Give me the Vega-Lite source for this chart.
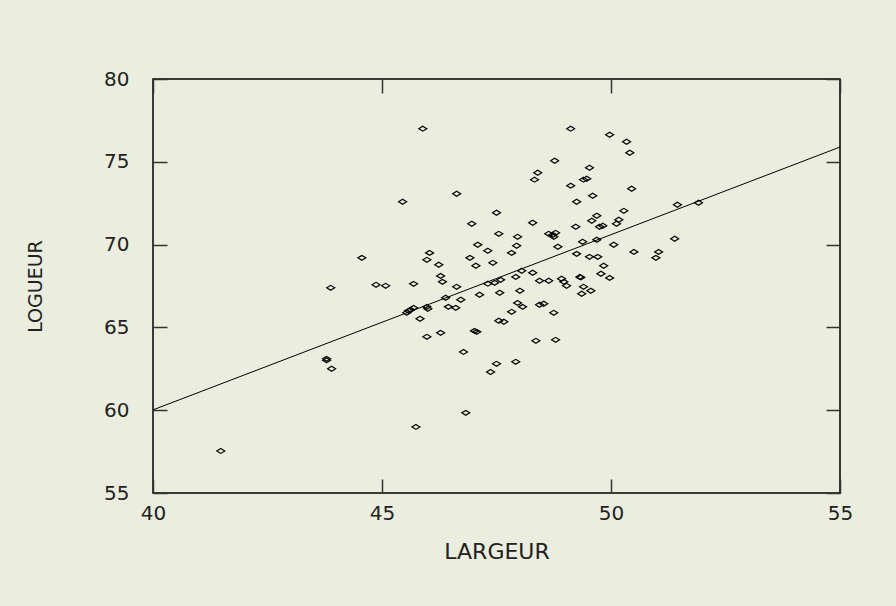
{
  "$schema": "https://vega.github.io/schema/vega-lite/v6.json",
  "width": 687,
  "height": 414,
  "autosize": "none",
  "padding": {"left": 153, "top": 79, "right": 56, "bottom": 113},
  "background": "#ebeede",
  "config": {
    "view": {"stroke": "#000", "strokeWidth": 1.5, "fill": "#ebeede"},
    "axis": {
      "grid": false,
      "domain": false,
      "tickColor": "#333",
      "tickSize": -14,
      "tickWidth": 1.5,
      "labelFlush": false,
      "labelFont": "DejaVu Sans",
      "labelFontSize": 20,
      "labelFontWeight": "normal",
      "labelColor": "#222",
      "titleFont": "DejaVu Sans",
      "titleFontSize": 19,
      "titleFontWeight": "normal",
      "titleColor": "#222"
    }
  },
  "datasets": {
    "pts": [
      {"LARGEUR": 41.48, "LOGUEUR": 57.54},
      {"LARGEUR": 43.79, "LOGUEUR": 63.10},
      {"LARGEUR": 43.79, "LOGUEUR": 63.01},
      {"LARGEUR": 43.90, "LOGUEUR": 62.50},
      {"LARGEUR": 43.88, "LOGUEUR": 67.39},
      {"LARGEUR": 44.56, "LOGUEUR": 69.20},
      {"LARGEUR": 44.87, "LOGUEUR": 67.57},
      {"LARGEUR": 45.08, "LOGUEUR": 67.51},
      {"LARGEUR": 45.45, "LOGUEUR": 72.59},
      {"LARGEUR": 45.89, "LOGUEUR": 77.00},
      {"LARGEUR": 45.69, "LOGUEUR": 67.63},
      {"LARGEUR": 45.54, "LOGUEUR": 65.88},
      {"LARGEUR": 45.58, "LOGUEUR": 66.00},
      {"LARGEUR": 45.63, "LOGUEUR": 66.06},
      {"LARGEUR": 45.69, "LOGUEUR": 66.18},
      {"LARGEUR": 45.98, "LOGUEUR": 66.24},
      {"LARGEUR": 46.00, "LOGUEUR": 66.12},
      {"LARGEUR": 45.83, "LOGUEUR": 65.52},
      {"LARGEUR": 45.98, "LOGUEUR": 64.43},
      {"LARGEUR": 45.74, "LOGUEUR": 58.99},
      {"LARGEUR": 46.04, "LOGUEUR": 69.50},
      {"LARGEUR": 45.98, "LOGUEUR": 69.08},
      {"LARGEUR": 46.24, "LOGUEUR": 68.78},
      {"LARGEUR": 46.28, "LOGUEUR": 68.11},
      {"LARGEUR": 46.32, "LOGUEUR": 67.75},
      {"LARGEUR": 46.28, "LOGUEUR": 64.67},
      {"LARGEUR": 46.39, "LOGUEUR": 66.79},
      {"LARGEUR": 46.45, "LOGUEUR": 66.24},
      {"LARGEUR": 46.61, "LOGUEUR": 66.18},
      {"LARGEUR": 46.63, "LOGUEUR": 67.45},
      {"LARGEUR": 46.63, "LOGUEUR": 73.07},
      {"LARGEUR": 46.72, "LOGUEUR": 66.67},
      {"LARGEUR": 46.78, "LOGUEUR": 63.52},
      {"LARGEUR": 46.83, "LOGUEUR": 59.84},
      {"LARGEUR": 46.92, "LOGUEUR": 69.20},
      {"LARGEUR": 46.96, "LOGUEUR": 71.26},
      {"LARGEUR": 47.05, "LOGUEUR": 68.72},
      {"LARGEUR": 47.02, "LOGUEUR": 64.79},
      {"LARGEUR": 47.07, "LOGUEUR": 64.73},
      {"LARGEUR": 47.09, "LOGUEUR": 69.99},
      {"LARGEUR": 47.13, "LOGUEUR": 66.97},
      {"LARGEUR": 47.31, "LOGUEUR": 67.64},
      {"LARGEUR": 47.31, "LOGUEUR": 69.63},
      {"LARGEUR": 47.37, "LOGUEUR": 62.31},
      {"LARGEUR": 47.42, "LOGUEUR": 68.90},
      {"LARGEUR": 47.46, "LOGUEUR": 67.69},
      {"LARGEUR": 47.50, "LOGUEUR": 71.92},
      {"LARGEUR": 47.50, "LOGUEUR": 62.80},
      {"LARGEUR": 47.55, "LOGUEUR": 70.65},
      {"LARGEUR": 47.57, "LOGUEUR": 67.09},
      {"LARGEUR": 47.59, "LOGUEUR": 67.87},
      {"LARGEUR": 47.55, "LOGUEUR": 65.40},
      {"LARGEUR": 47.66, "LOGUEUR": 65.34},
      {"LARGEUR": 47.83, "LOGUEUR": 65.94},
      {"LARGEUR": 47.83, "LOGUEUR": 69.50},
      {"LARGEUR": 47.92, "LOGUEUR": 68.05},
      {"LARGEUR": 47.92, "LOGUEUR": 62.92},
      {"LARGEUR": 47.94, "LOGUEUR": 69.93},
      {"LARGEUR": 47.96, "LOGUEUR": 70.47},
      {"LARGEUR": 47.96, "LOGUEUR": 66.48},
      {"LARGEUR": 48.01, "LOGUEUR": 67.21},
      {"LARGEUR": 48.05, "LOGUEUR": 68.42},
      {"LARGEUR": 48.07, "LOGUEUR": 66.24},
      {"LARGEUR": 48.29, "LOGUEUR": 68.30},
      {"LARGEUR": 48.29, "LOGUEUR": 71.32},
      {"LARGEUR": 48.33, "LOGUEUR": 73.92},
      {"LARGEUR": 48.40, "LOGUEUR": 74.34},
      {"LARGEUR": 48.36, "LOGUEUR": 64.19},
      {"LARGEUR": 48.44, "LOGUEUR": 67.82},
      {"LARGEUR": 48.44, "LOGUEUR": 66.37},
      {"LARGEUR": 48.53, "LOGUEUR": 66.43},
      {"LARGEUR": 48.64, "LOGUEUR": 67.82},
      {"LARGEUR": 48.64, "LOGUEUR": 70.65},
      {"LARGEUR": 48.73, "LOGUEUR": 70.59},
      {"LARGEUR": 48.75, "LOGUEUR": 70.47},
      {"LARGEUR": 48.79, "LOGUEUR": 70.71},
      {"LARGEUR": 48.75, "LOGUEUR": 65.88},
      {"LARGEUR": 48.77, "LOGUEUR": 75.06},
      {"LARGEUR": 48.79, "LOGUEUR": 64.25},
      {"LARGEUR": 48.84, "LOGUEUR": 69.87},
      {"LARGEUR": 48.92, "LOGUEUR": 67.94},
      {"LARGEUR": 48.97, "LOGUEUR": 67.75},
      {"LARGEUR": 49.03, "LOGUEUR": 67.51},
      {"LARGEUR": 49.12, "LOGUEUR": 77.00},
      {"LARGEUR": 49.12, "LOGUEUR": 73.56},
      {"LARGEUR": 49.25, "LOGUEUR": 72.59},
      {"LARGEUR": 49.23, "LOGUEUR": 71.08},
      {"LARGEUR": 49.25, "LOGUEUR": 69.44},
      {"LARGEUR": 49.32, "LOGUEUR": 68.05},
      {"LARGEUR": 49.34, "LOGUEUR": 68.02},
      {"LARGEUR": 49.38, "LOGUEUR": 70.17},
      {"LARGEUR": 49.40, "LOGUEUR": 67.45},
      {"LARGEUR": 49.56, "LOGUEUR": 67.21},
      {"LARGEUR": 49.36, "LOGUEUR": 67.03},
      {"LARGEUR": 49.40, "LOGUEUR": 73.92},
      {"LARGEUR": 49.47, "LOGUEUR": 73.98},
      {"LARGEUR": 49.53, "LOGUEUR": 74.64},
      {"LARGEUR": 49.53, "LOGUEUR": 69.26},
      {"LARGEUR": 49.58, "LOGUEUR": 71.44},
      {"LARGEUR": 49.60, "LOGUEUR": 72.95},
      {"LARGEUR": 49.69, "LOGUEUR": 71.74},
      {"LARGEUR": 49.69, "LOGUEUR": 70.29},
      {"LARGEUR": 49.71, "LOGUEUR": 69.26},
      {"LARGEUR": 49.75, "LOGUEUR": 71.08},
      {"LARGEUR": 49.82, "LOGUEUR": 71.14},
      {"LARGEUR": 49.78, "LOGUEUR": 68.24},
      {"LARGEUR": 49.84, "LOGUEUR": 68.72},
      {"LARGEUR": 49.97, "LOGUEUR": 67.99},
      {"LARGEUR": 49.97, "LOGUEUR": 76.63},
      {"LARGEUR": 50.06, "LOGUEUR": 69.99},
      {"LARGEUR": 50.12, "LOGUEUR": 71.26},
      {"LARGEUR": 50.17, "LOGUEUR": 71.50},
      {"LARGEUR": 50.28, "LOGUEUR": 72.04},
      {"LARGEUR": 50.34, "LOGUEUR": 76.21},
      {"LARGEUR": 50.41, "LOGUEUR": 75.55},
      {"LARGEUR": 50.45, "LOGUEUR": 73.37},
      {"LARGEUR": 50.50, "LOGUEUR": 69.56},
      {"LARGEUR": 50.98, "LOGUEUR": 69.20},
      {"LARGEUR": 51.04, "LOGUEUR": 69.56},
      {"LARGEUR": 51.39, "LOGUEUR": 70.35},
      {"LARGEUR": 51.45, "LOGUEUR": 72.41},
      {"LARGEUR": 51.91, "LOGUEUR": 72.53}
    ],
    "fit": [
      {"LARGEUR": 40, "LOGUEUR": 60.02},
      {"LARGEUR": 55, "LOGUEUR": 75.89}
    ]
  },
  "layer": [
    {
      "data": {"name": "pts"},
      "mark": {
        "type": "point",
        "shape": "M -1 0 L 0 -0.62 L 1 0 L 0 0.62 Z",
        "size": 64,
        "filled": false,
        "stroke": "#000",
        "strokeWidth": 1.2,
        "opacity": 1
      },
      "encoding": {
        "x": {
          "field": "LARGEUR", "type": "quantitative",
          "scale": {"domain": [40, 55], "nice": false, "zero": false},
          "axis": {"orient": "bottom", "values": [40, 45, 50, 55], "title": "LARGEUR", "titleFontSize": 22, "labelPadding": 24, "titlePadding": 18}
        },
        "y": {
          "field": "LOGUEUR", "type": "quantitative",
          "scale": {"domain": [55, 80], "nice": false, "zero": false},
          "axis": {"orient": "left", "values": [55, 60, 65, 70, 75, 80], "title": "LOGUEUR", "labelPadding": 38, "titlePadding": 58}
        }
      }
    },
    {
      "data": {"name": "fit"},
      "mark": {"type": "line", "stroke": "#000", "strokeWidth": 1},
      "encoding": {
        "x": {
          "field": "LARGEUR", "type": "quantitative",
          "scale": {"domain": [40, 55], "nice": false, "zero": false},
          "axis": {"orient": "top", "values": [40, 45, 50, 55], "labels": false, "title": null}
        },
        "y": {
          "field": "LOGUEUR", "type": "quantitative",
          "scale": {"domain": [55, 80], "nice": false, "zero": false},
          "axis": {"orient": "right", "values": [55, 60, 65, 70, 75, 80], "labels": false, "title": null}
        }
      }
    }
  ],
  "resolve": {"axis": {"x": "independent", "y": "independent"}}
}
